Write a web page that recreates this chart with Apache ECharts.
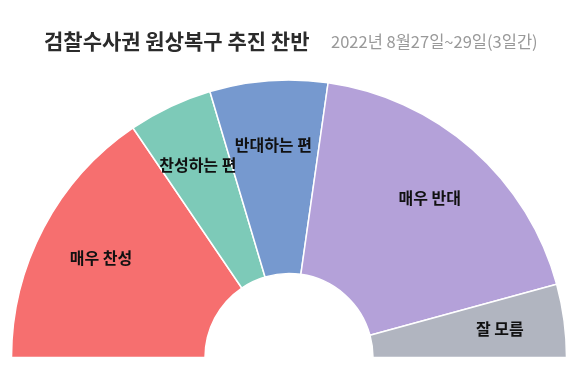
<!DOCTYPE html>
<html><head><meta charset="utf-8">
<script src="https://cdn.jsdelivr.net/npm/echarts@6/dist/echarts.min.js"></script>
<style>html,body{margin:0;padding:0;background:#fff}#c{width:580px;height:387px}</style>
</head><body><div id="c"></div>
<script>
const titleText = '검찰수사권 원상복구 추진 찬반';
const subtitleText = '2022년 8월27일~29일(3일간)';
const categories = ['매우 찬성', '찬성하는 편', '반대하는 편', '매우 반대', '잘 모름'];
const values = [31.0, 9.8, 13.7, 37.0, 8.5];
const colors = ['#F66F6F', '#7DCAB8', '#7699CF', '#B4A1D9', '#B1B5C0'];

const data = categories.map((c, i) => ({ name: c, value: values[i], itemStyle: { color: colors[i] } }));
const font = '"Noto Sans CJK KR", "Noto Sans", sans-serif';
const chart = echarts.init(document.getElementById('c'), null, { renderer: 'canvas' });
chart.setOption({
  animation: false,
  title: [
    { text: titleText, left: 44, top: 31, padding: 0,
      textStyle: { fontFamily: font, fontSize: 21, fontWeight: 'bold', color: '#2b2b2b' } },
    { text: subtitleText, left: 331, top: 33.5, padding: 0,
      textStyle: { fontFamily: font, fontSize: 16.5, fontWeight: 'normal', color: '#999' } }
  ],
  series: [
    {
      type: 'pie', center: [289, 357.5], radius: [84, 277.5],
      startAngle: 180, endAngle: 360, clockwise: true,
      data: data, silent: true,
      itemStyle: { borderColor: '#fff', borderWidth: 1.5 },
      label: { show: false }, labelLine: { show: false }
    },
    {
      type: 'pie', center: [289, 357.5], radius: [142, 277.5],
      startAngle: 180, endAngle: 360, clockwise: true, silent: true,
      data: categories.map((c, i) => ({ name: c, value: values[i] })),
      itemStyle: { color: 'rgba(0,0,0,0)', borderWidth: 0 },
      label: { show: true, position: 'inside', formatter: '{b}',
        fontFamily: font, fontSize: 16, fontWeight: 'bold', color: '#111' },
      labelLine: { show: false }
    }
  ]
});
</script></body></html>
